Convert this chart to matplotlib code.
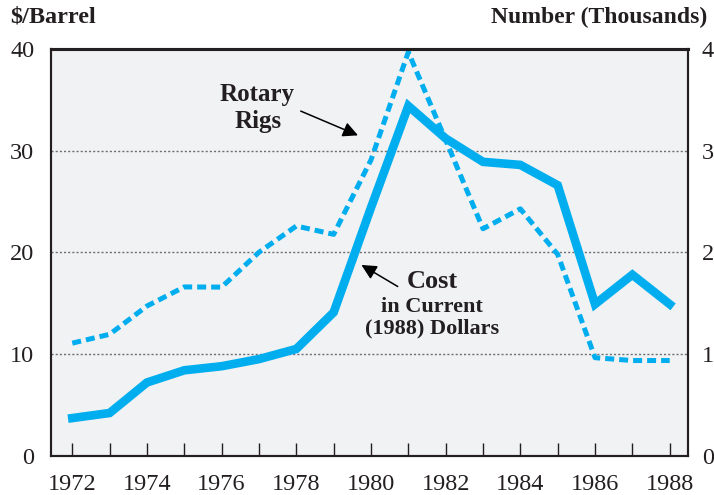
import matplotlib
matplotlib.use('Agg')
import matplotlib.pyplot as plt

plt.rcParams['font.family'] = ['Liberation Serif', 'DejaVu Serif']

# data
years = list(range(1972, 1989))
cost = [3.7, 4.2, 7.2, 8.4, 8.8, 9.5, 10.5, 14.1, 24.4, 34.4, 31.2, 28.9, 28.6, 26.6, 14.9, 17.8, 14.9]  # $/barrel
rigs = [1.107, 1.194, 1.472, 1.660, 1.658, 2.001, 2.259, 2.177, 2.909, 3.970, 3.105, 2.232, 2.428, 1.980, 0.964, 0.936, 0.936]  # thousands
left_ticks = [0, 10, 20, 30, 40]
right_ticks = [0, 1, 2, 3, 4]
grid_lines = [10, 20, 30]

blue = '#00aeef'
dark = '#231f20'

fig = plt.figure(figsize=(7.14, 4.95), dpi=100)
ax = fig.add_axes([51 / 714, 1 - 455.7 / 495, (688 - 51) / 714, (455.7 - 49) / 495])
ax.set_facecolor('#f1f2f4')

for g in grid_lines:
    ax.axhline(g, color='#6d6e71', lw=1.0, ls=(0, (1.5, 1.5)), zorder=1)

ax.plot(years, cost, color=blue, lw=6.2, solid_joinstyle='miter', zorder=3)

ax.set_xlim(1971.43, 1988.49)
ax.set_ylim(0, 40)
ax.set_yticks(left_ticks)
ax.set_xticks(years)
ax.set_xticklabels([str(y) if y % 2 == 0 else '' for y in years])
ax.tick_params(axis='x', direction='in', length=9.5, width=1, color=dark,
               pad=13, labelsize=17.5, labelcolor=dark)
ax.tick_params(axis='y', length=0, pad=12, labelsize=17.5, labelcolor=dark)

ax2 = ax.twinx()
ax2.plot(years, rigs, color=blue, lw=3.6, dashes=(1.8, 1.0), zorder=2)
ax2.set_ylim(0, 4)
ax2.set_yticks(right_ticks)
ax2.tick_params(axis='y', length=0, pad=10, labelsize=17.5, labelcolor=dark)

for a in (ax, ax2):
    for s in a.spines.values():
        s.set_color(dark)
        s.set_linewidth(1.5)
    a.spines['top'].set_linewidth(2.2)

# annotations
bold = dict(fontweight='bold', color=dark, ha='center', va='center')
head = '-|>,head_length=0.9,head_width=0.45'
ax.text(1976.95, 35.5, 'Rotary', fontsize=18, **bold)
ax.text(1976.98, 32.85, 'Rigs', fontsize=18, **bold)
ax.annotate('', xy=(1979.72, 31.4), xytext=(1978.05, 34.0),
            arrowprops=dict(arrowstyle=head, color='black', lw=1.1))

ax.text(1981.63, 17.1, 'Cost', fontsize=19, **bold)
ax.text(1981.63, 14.65, 'in Current', fontsize=16, **bold)
ax.text(1981.63, 12.55, '(1988) Dollars', fontsize=16, **bold)
ax.annotate('', xy=(1979.68, 18.9), xytext=(1980.78, 16.5),
            arrowprops=dict(arrowstyle=head, color='black', lw=1.1))

fig.text(10 / 714, 1 - 17 / 495, '$/Barrel', fontsize=17.5, fontweight='bold',
         color=dark, ha='left', va='center')
fig.text(707 / 714, 1 - 17 / 495, 'Number (Thousands)', fontsize=17, fontweight='bold',
         color=dark, ha='right', va='center')

fig.savefig('out.png', dpi=100)
